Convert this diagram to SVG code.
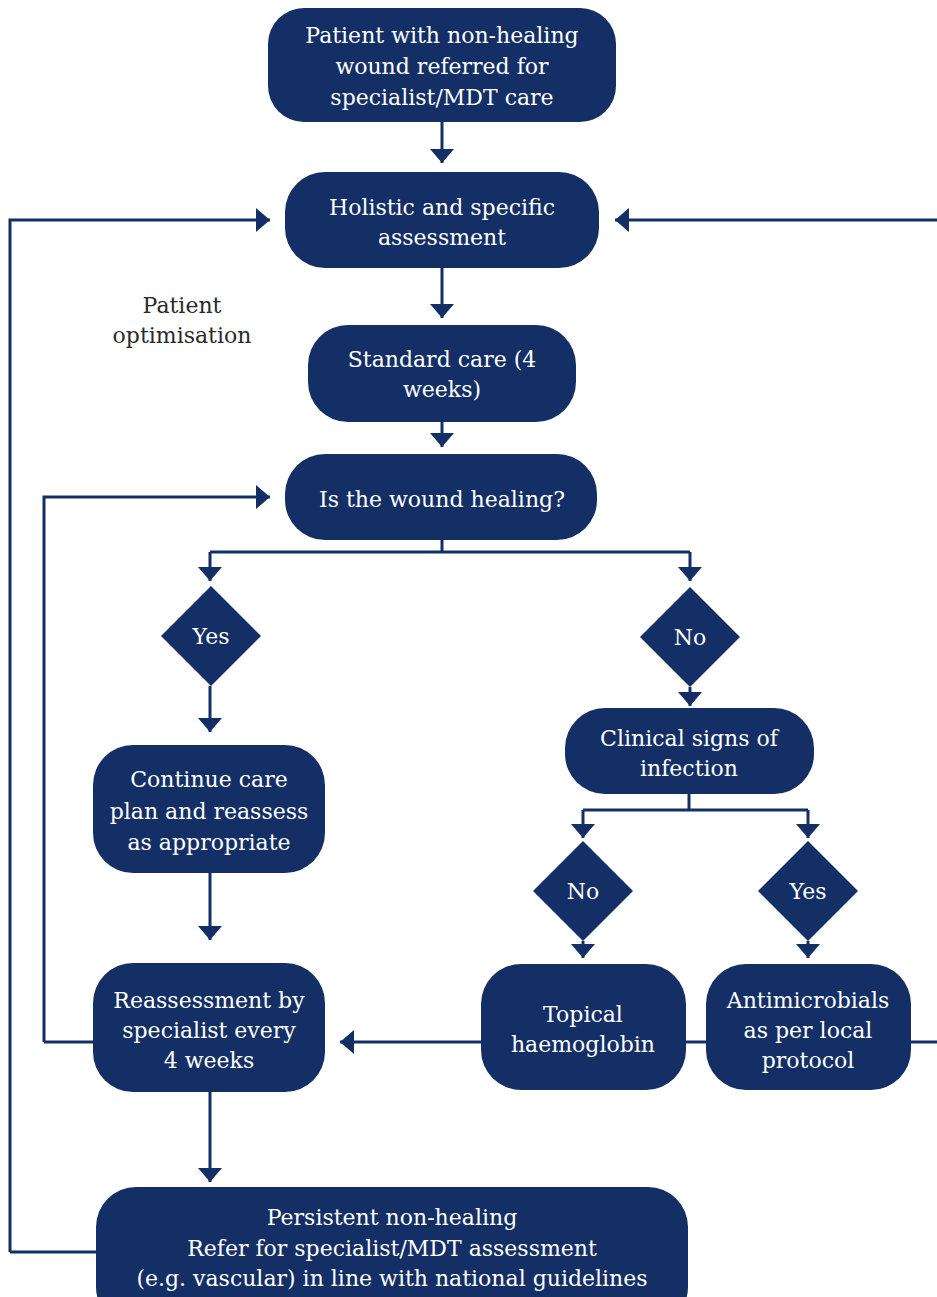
<svg xmlns="http://www.w3.org/2000/svg" width="937" height="1297" viewBox="0 0 937 1297">
<defs>
<style>
.n{fill:#132f65}
.t{font-family:"DejaVu Serif","Liberation Serif",serif;font-size:22px;fill:#ffffff;text-anchor:middle}
.l{font-family:"DejaVu Serif","Liberation Serif",serif;font-size:22px;fill:#2a2a2a;text-anchor:middle}
.c{fill:none;stroke:#132f65;stroke-width:3}
.a{marker-end:url(#ah)}
</style>
<marker id="ah" viewBox="0 0 14 24" refX="14" refY="12" markerWidth="14" markerHeight="24" markerUnits="userSpaceOnUse" orient="auto">
<path d="M0,0 L14,12 L0,24 z" fill="#132f65"/>
</marker>
</defs>
<rect width="937" height="1297" fill="#ffffff"/>
<g id="connectors">
<path class="c a" d="M442,122 V163"/>
<path class="c a" d="M442,268 V318"/>
<path class="c a" d="M442,422 V447"/>
<path class="c a" d="M10,1252 H96 M10,1252 V220 H270"/>
<path class="c a" d="M937,220 H615"/>
<path class="c" d="M911,1042 H937"/>
<path class="c a" d="M44,1042 V497 H270"/>
<path class="c" d="M44,1042 H93"/>
<path class="c" d="M442,540 V552 M210,552 H690"/>
<path class="c a" d="M210,552 V581"/>
<path class="c a" d="M690,552 V581"/>
<path class="c a" d="M210,686 V732"/>
<path class="c a" d="M690,687 V706"/>
<path class="c a" d="M210,873 V940"/>
<path class="c a" d="M210,1092 V1182"/>
<path class="c" d="M689,794 V810 M583,810 H808"/>
<path class="c a" d="M583,810 V838"/>
<path class="c a" d="M808,810 V838"/>
<path class="c a" d="M583,941 V958"/>
<path class="c a" d="M808,941 V958"/>
<path class="c" d="M686,1042 H706"/>
<path class="c a" d="M481,1042 H340"/>
</g>
<g id="n1"><rect class="n" x="268" y="8" width="348" height="114" rx="36"/>
<text class="t" x="442" y="43">Patient with non-healing</text>
<text class="t" x="442" y="74">wound referred for</text>
<text class="t" x="442" y="105">specialist/MDT care</text></g>
<g id="n2"><rect class="n" x="285" y="172" width="314" height="96" rx="40"/>
<text class="t" x="442" y="215">Holistic and specific</text>
<text class="t" x="442" y="245">assessment</text></g>
<g id="lbl"><text class="l" x="182" y="313">Patient</text>
<text class="l" x="182" y="343">optimisation</text></g>
<g id="n3"><rect class="n" x="308" y="325" width="268" height="97" rx="40"/>
<text class="t" x="442" y="367">Standard care (4</text>
<text class="t" x="442" y="397">weeks)</text></g>
<g id="n4"><rect class="n" x="285" y="454" width="312" height="86" rx="40"/>
<text class="t" x="442" y="507">Is the wound healing?</text></g>
<g id="d1"><polygon class="n" points="211,586 261,636 211,686 161,636"/>
<text class="t" x="211" y="644">Yes</text></g>
<g id="d2"><polygon class="n" points="690,587 740,637 690,687 640,637"/>
<text class="t" x="690" y="645">No</text></g>
<g id="n5"><rect class="n" x="93" y="745" width="232" height="128" rx="40"/>
<text class="t" x="209" y="787">Continue care</text>
<text class="t" x="209" y="819">plan and reassess</text>
<text class="t" x="209" y="850">as appropriate</text></g>
<g id="n6"><rect class="n" x="565" y="708" width="249" height="86" rx="40"/>
<text class="t" x="689" y="746">Clinical signs of</text>
<text class="t" x="689" y="776">infection</text></g>
<g id="d3"><polygon class="n" points="583,841 633,891 583,941 533,891"/>
<text class="t" x="583" y="899">No</text></g>
<g id="d4"><polygon class="n" points="808,841 858,891 808,941 758,891"/>
<text class="t" x="808" y="899">Yes</text></g>
<g id="n7"><rect class="n" x="93" y="963" width="232" height="129" rx="40"/>
<text class="t" x="209" y="1008">Reassessment by</text>
<text class="t" x="209" y="1038">specialist every</text>
<text class="t" x="209" y="1068">4 weeks</text></g>
<g id="n8"><rect class="n" x="481" y="964" width="205" height="126" rx="40"/>
<text class="t" x="583" y="1022">Topical</text>
<text class="t" x="583" y="1052">haemoglobin</text></g>
<g id="n9"><rect class="n" x="706" y="964" width="205" height="126" rx="40"/>
<text class="t" x="808" y="1008">Antimicrobials</text>
<text class="t" x="808" y="1038">as per local</text>
<text class="t" x="808" y="1068">protocol</text></g>
<g id="n10"><rect class="n" x="96" y="1187" width="592" height="140" rx="40"/>
<text class="t" x="392" y="1225">Persistent non-healing</text>
<text class="t" x="392" y="1256">Refer for specialist/MDT assessment</text>
<text class="t" x="392" y="1286">(e.g. vascular) in line with national guidelines</text></g>
</svg>
